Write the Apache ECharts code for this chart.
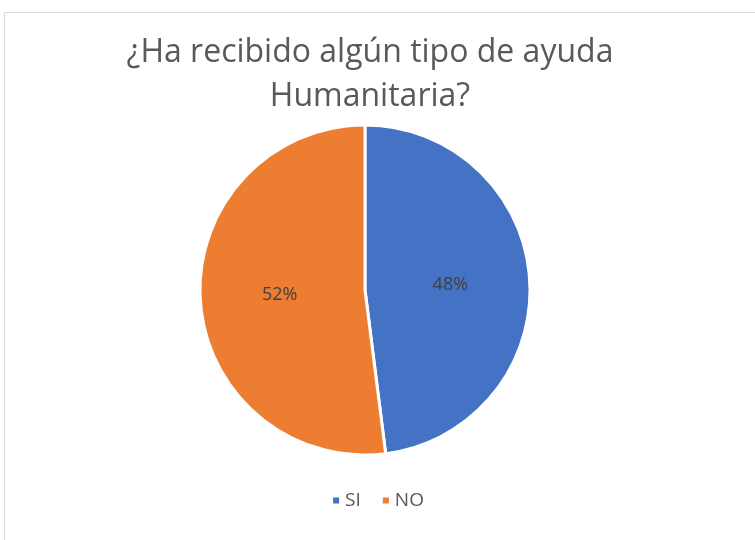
<!DOCTYPE html>
<html>
<head>
<meta charset="utf-8">
<script src="https://cdn.jsdelivr.net/npm/echarts@6/dist/echarts.min.js"></script>
<style>
  html, body { margin: 0; padding: 0; background: #fff; }
  #chart { width: 755px; height: 540px; }
</style>
</head>
<body>
<div id="chart"></div>
<script>
// datos
const categories = ['SI', 'NO']
const values = [48, 52]
const colors = ['#4472C4', '#ED7D31']

const fontFam = '"Open Sans", sans-serif'

let chart = echarts.init(document.getElementById('chart'))
let pieData = categories.map((c, i) => ({
  name: c,
  value: values[i],
  itemStyle: { color: colors[i] }
}))

chart.setOption({
  animation: false,
  graphic: [{
    type: 'rect',
    shape: { x: 4.5, y: 12.5, width: 800, height: 600 },
    style: { fill: 'none', stroke: '#D9D9D9', lineWidth: 1 },
    silent: true
  }],
  title: {
    text: '¿Ha recibido algún tipo de ayuda\nHumanitaria?',
    left: 365,
    top: 26,
    textAlign: 'center',
    textStyle: {
      fontFamily: fontFam,
      fontSize: 32,
      fontWeight: 'normal',
      color: '#595959',
      lineHeight: 44
    }
  },
  legend: {
    data: categories,
    bottom: 25,
    left: 'center',
    icon: 'rect',
    itemWidth: 8,
    itemHeight: 8,
    itemGap: 20,
    textStyle: { fontFamily: fontFam, fontSize: 19, color: '#595959' }
  },
  series: [{
    type: 'pie',
    center: [365, 290],
    radius: [0, 165],
    startAngle: 90,
    clockwise: true,
    itemStyle: { borderColor: '#fff', borderWidth: 3 },
    label: {
      show: true,
      position: 'inside',
      formatter: '{c}%',
      fontFamily: fontFam,
      fontSize: 18,
      color: '#404040'
    },
    labelLine: { show: false },
    data: pieData
  }]
})
</script>
</body>
</html>
